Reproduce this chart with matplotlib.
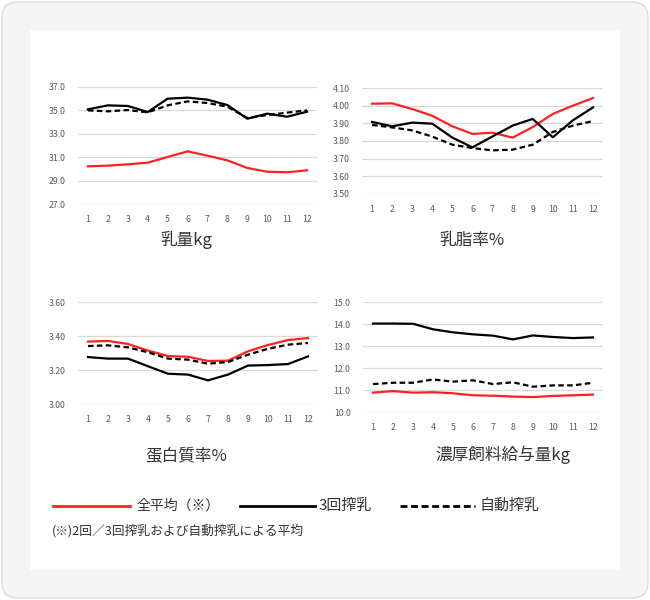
import matplotlib.pyplot as plt
from matplotlib.patches import FancyBboxPatch, Rectangle
from matplotlib.lines import Line2D

plt.rcParams['font.family'] = ['Noto Sans CJK JP', 'DejaVu Sans']

months = list(range(1, 13))

# 乳量kg
milk_avg = [30.22, 30.28, 30.39, 30.53, 31.02, 31.5, 31.13, 30.73, 30.08, 29.76, 29.71, 29.88]
milk_3x = [35.09, 35.43, 35.38, 34.86, 36.0, 36.09, 35.92, 35.46, 34.29, 34.72, 34.46, 34.89]
milk_robot = [35.0, 34.92, 35.03, 34.83, 35.43, 35.77, 35.63, 35.32, 34.35, 34.6, 34.81, 35.0]

# 乳脂率%
fat_avg = [4.011, 4.013, 3.981, 3.943, 3.883, 3.84, 3.847, 3.819, 3.879, 3.953, 4.0, 4.043]
fat_3x = [3.908, 3.883, 3.904, 3.898, 3.819, 3.764, 3.826, 3.887, 3.925, 3.821, 3.917, 3.99]
fat_robot = [3.891, 3.877, 3.86, 3.825, 3.779, 3.76, 3.747, 3.751, 3.779, 3.851, 3.887, 3.913]

# 蛋白質率%
prot_avg = [3.367, 3.371, 3.353, 3.314, 3.282, 3.278, 3.253, 3.255, 3.31, 3.347, 3.376, 3.388]
prot_3x = [3.276, 3.267, 3.267, 3.222, 3.178, 3.173, 3.139, 3.173, 3.226, 3.229, 3.235, 3.28]
prot_robot = [3.341, 3.345, 3.333, 3.304, 3.267, 3.261, 3.237, 3.247, 3.29, 3.325, 3.349, 3.359]

# 濃厚飼料給与量kg
feed_avg = [10.88, 10.95, 10.88, 10.9, 10.85, 10.76, 10.74, 10.7, 10.68, 10.73, 10.76, 10.79]
feed_3x = [14.02, 14.02, 14.01, 13.76, 13.62, 13.53, 13.47, 13.3, 13.48, 13.41, 13.36, 13.39]
feed_robot = [11.27, 11.33, 11.33, 11.48, 11.38, 11.44, 11.27, 11.35, 11.15, 11.21, 11.21, 11.33]

RED = '#ff2020'
GRID = '#d9d9d9'
TICK = '#595959'
TXT = '#333333'

W, H = 650, 600
fig = plt.figure(figsize=(6.5, 6.0), dpi=100)
fig.patch.set_facecolor('white')

# background frame (kept below the axes)
fig.add_artist(FancyBboxPatch((2 / W, 2 / H), (W - 4) / W, (H - 4) / H,
                              boxstyle='round,pad=0,rounding_size=0.025',
                              transform=fig.transFigure, facecolor='#f5f5f5',
                              edgecolor='#dddddd', lw=1, zorder=-20))
fig.add_artist(Rectangle((30 / W, 1 - 570 / H), 590 / W, 540 / H,
                         transform=fig.transFigure, facecolor='white',
                         edgecolor='none', zorder=-10))


def px_axes(x0, x1, ytop, ybot):
    return fig.add_axes([x0 / W, 1 - ybot / H, (x1 - x0) / W, (ybot - ytop) / H])


panels = [
    dict(box=(78, 317, 87, 204), data=(milk_avg, milk_3x, milk_robot),
         ylim=(27, 37), ticks=[27, 29, 31, 33, 35, 37], fmt='{:.1f}',
         title='乳量kg', tx=186, ty=240),
    dict(box=(362, 603, 88, 194), data=(fat_avg, fat_3x, fat_robot),
         ylim=(3.5, 4.1), ticks=[3.5, 3.6, 3.7, 3.8, 3.9, 4.0, 4.1], fmt='{:.2f}',
         title='乳脂率%', tx=472, ty=240),
    dict(box=(78, 318, 302, 404), data=(prot_avg, prot_3x, prot_robot),
         ylim=(3.0, 3.6), ticks=[3.0, 3.2, 3.4, 3.6], fmt='{:.2f}',
         title='蛋白質率%', tx=186, ty=457),
    dict(box=(363, 603, 302, 412), data=(feed_avg, feed_3x, feed_robot),
         ylim=(10, 15), ticks=[10, 11, 12, 13, 14, 15], fmt='{:.1f}',
         title='濃厚飼料給与量kg', tx=503, ty=455),
]

for p in panels:
    ax = px_axes(*p['box'])
    avg, three, robot = p['data']
    ax.plot(months, avg, color=RED, lw=1.6, zorder=3, clip_on=False)
    ax.plot(months, three, color='black', lw=1.6, zorder=3, clip_on=False)
    ax.plot(months, robot, color='black', lw=1.6, ls=(0, (2.5, 1.5)), zorder=3,
            clip_on=False)
    ax.set_xlim(0.5, 12.5)
    ax.set_ylim(*p['ylim'])
    ax.set_yticks(p['ticks'])
    ax.set_yticklabels([p['fmt'].format(t) for t in p['ticks']])
    ax.set_xticks(months)
    ax.grid(axis='y', color=GRID, lw=0.9)
    ax.set_axisbelow(True)
    for s in ax.spines.values():
        s.set_visible(False)
    ax.tick_params(length=0, labelsize=6.3, labelcolor=TICK, pad=9)
    ax.tick_params(axis='x', pad=8)
    ax.patch.set_alpha(0)
    fig.text(p['tx'] / W, 1 - p['ty'] / H, p['title'], ha='center', va='center',
             fontsize=12, color=TXT)

# legend
leg_y = 1 - 506 / H
fig.add_artist(Line2D([53 / W, 130 / W], [leg_y, leg_y], color=RED, lw=2))
fig.text(137 / W, leg_y, '全平均（※）', va='center', fontsize=10, color=TXT)
fig.add_artist(Line2D([240 / W, 315 / W], [leg_y, leg_y], color='black', lw=2))
fig.text(319 / W, leg_y, '3回搾乳', va='center', fontsize=10.8, color=TXT)
fig.add_artist(Line2D([400 / W, 475 / W], [leg_y, leg_y], color='black', lw=2,
                      ls=(0, (2.5, 1.3))))
fig.text(480 / W, leg_y, '自動搾乳', va='center', fontsize=10.8, color=TXT)
fig.text(52 / W, 1 - 531 / H, '(※)2回／3回搾乳および自動搾乳による平均',
         va='center', fontsize=9.2, color=TXT)

fig.savefig('out.png', dpi=100, facecolor='white')
